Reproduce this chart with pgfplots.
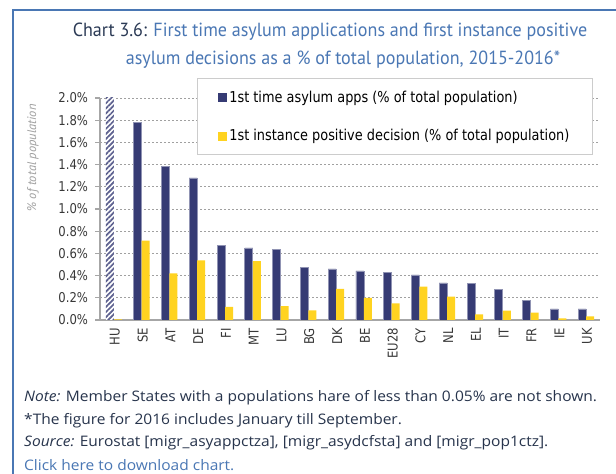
\documentclass[border=0pt]{standalone}
\usepackage{fontspec}
\setmainfont{PT Sans}
\newfontfamily\dv[FakeStretch=0.86]{DejaVu Sans}
\newfontfamily\titlefont[FakeStretch=0.95]{PT Sans}
\newfontfamily\notefont[FakeStretch=1.07]{Open Sans}
\usepackage{pgfplots}
\pgfplotsset{compat=1.18}
\usetikzlibrary{patterns.meta}
\definecolor{navy}{HTML}{363B74}
\definecolor{ecyellow}{HTML}{FFD320}
\definecolor{ecblue}{HTML}{4A77B4}
\definecolor{ecdark}{HTML}{2B3A55}
\definecolor{gridgrey}{HTML}{A0A0A0}
\definecolor{axisgrey}{HTML}{A6A6A6}
\definecolor{ticktext}{HTML}{383838}
\begin{document}
\begin{tikzpicture}[x=1pt,y=1pt]
\path[use as bounding box,fill=white] (0,0) rectangle (616,474);
% frame
\draw[ecblue,line width=2pt] (13,0) -- (13,464) -- (616,464);
% title
\node[font=\titlefont\fontsize{19}{22}\selectfont,anchor=base] at (330,437) {\textcolor{ecdark}{Chart 3.6:} \textcolor{ecblue}{First time asylum applications and first instance positive}};
\node[font=\titlefont\fontsize{19}{22}\selectfont,anchor=base,text=ecblue] at (343,409) {asylum decisions as a \% of total population, 2015-2016*};
% y label
\node[font=\itshape\fontsize{12.5}{14}\selectfont,text=gridgrey,rotate=90] at (33,316) {\% of total population};
\begin{axis}[
  at={(100pt,154pt)}, anchor=south west,
  scale only axis, width=500pt, height=222pt,
  xmin=-0.5, xmax=17.5, ymin=0, ymax=2.0,
  enlargelimits=false,
  axis lines=left,
  axis line style={-, draw=axisgrey, line width=1.5pt},
  ybar=0pt, bar width=8pt,
  xtick={0,...,17},
  xticklabels={HU,SE,AT,DE,FI,MT,LU,BG,DK,BE,EU28,CY,NL,EL,IT,FR,IE,UK},
  xtick style={draw=none},
  minor xtick={-0.5,0.5,...,17.5},
  minor tick length=5pt,
  major tick length=4.5pt,
  tick align=outside,
  minor tick style={draw=axisgrey, line width=1.2pt},
  ytick={0,0.2,...,2.01},
  yticklabels={0.0\%,0.2\%,0.4\%,0.6\%,0.8\%,1.0\%,1.2\%,1.4\%,1.6\%,1.8\%,2.0\%},
  ytick style={draw=axisgrey, line width=1.2pt},
  xticklabel style={font=\dv\fontsize{13.5}{15}\selectfont, text=ticktext, rotate=90, anchor=east, yshift=-1pt},
  yticklabel style={font=\dv\fontsize{13.5}{15}\selectfont, text=ticktext, xshift=-4pt},
  ymajorgrids,
  major grid style={draw=gridgrey, line width=0.8pt, dash pattern=on 2pt off 2pt},
  legend style={at={(0.986,1.09)}, anchor=north east, draw=gray!40, line width=1.3pt, fill=white,
    font=\dv\fontsize{15}{17}\selectfont, row sep=22pt, inner xsep=21pt, inner ysep=10pt},
  legend cell align=left,
  legend image code/.code={\path[#1,draw=none] (0pt,-4.5pt) rectangle (9pt,4.5pt);},
]
\addplot[fill=navy, draw=navy!55!white, line width=0.6pt] coordinates {
 (1,1.78) (2,1.387) (3,1.28) (4,0.67) (5,0.65) (6,0.636) (7,0.474) (8,0.46) (9,0.442)
 (10,0.427) (11,0.406) (12,0.334) (13,0.328) (14,0.277) (15,0.18) (16,0.10) (17,0.10)};
\addplot[fill=ecyellow, draw=none] coordinates {
 (0,0.005) (1,0.715) (2,0.42) (3,0.537) (4,0.118) (5,0.531) (6,0.124) (7,0.087) (8,0.28) (9,0.199)
 (10,0.15) (11,0.30) (12,0.21) (13,0.05) (14,0.084) (15,0.066) (16,0.015) (17,0.033)};
\addplot[forget plot, bar shift=-4pt, fill=white, draw=none,
  postaction={pattern={Lines[angle=45,distance=3.6pt,line width=1.7pt]}, pattern color=navy!80!white}]
  coordinates {(0,2.0)};
\legend{1st time asylum apps (\% of total population),1st instance positive decision (\% of total population)}
\end{axis}
% notes
\node[anchor=base west,inner sep=0pt,font=\notefont\fontsize{14.5}{16}\selectfont,text=ecdark!90!black] at (24,72) {\textit{Note:} Member States with a populations hare of less than 0.05\% are not shown.};
\node[anchor=base west,inner sep=0pt,font=\notefont\fontsize{14.5}{16}\selectfont,text=ecdark!90!black] at (24,49) {*The figure for 2016 includes January till September.};
\node[anchor=base west,inner sep=0pt,font=\notefont\fontsize{14.5}{16}\selectfont,text=ecdark!90!black] at (24,27) {\textit{Source:} Eurostat [migr\_asyappctza], [migr\_asydcfsta] and [migr\_pop1ctz].};
\node[anchor=base west,inner sep=0pt,font=\notefont\fontsize{14.5}{16}\selectfont,text=ecblue] at (24,3) {Click here to download chart.};
\end{tikzpicture}
\end{document}
